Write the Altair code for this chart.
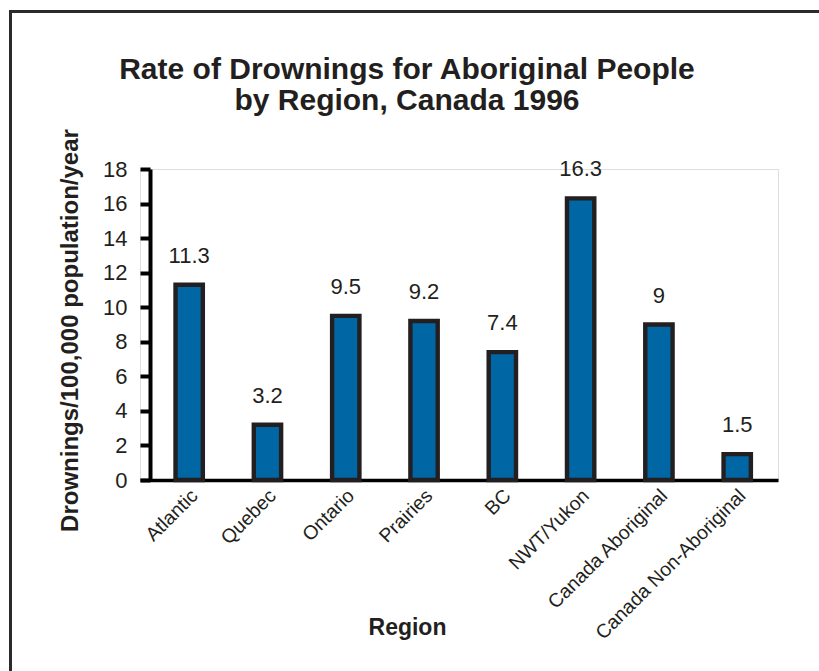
import altair as alt
import pandas as pd

# Drowning rates per 100,000 Aboriginal population per year, 1996
regions = [
    "Atlantic", "Quebec", "Ontario", "Prairies", "BC",
    "NWT/Yukon", "Canada Aboriginal", "Canada Non-Aboriginal",
]
rates = [11.3, 3.2, 9.5, 9.2, 7.4, 16.3, 9.0, 1.5]
y_ticks = [0, 2, 4, 6, 8, 10, 12, 14, 16, 18]

df = pd.DataFrame({"region": regions, "rate": rates})

FONT = "Liberation Sans"
INK = "#231f20"
BAR_FILL = "#0066a4"

x_enc = alt.X(
    "region:N",
    sort=regions,
    title="Region",
    scale=alt.Scale(paddingInner=0.651, paddingOuter=0.4, align=0.567),
    axis=alt.Axis(
        labelAngle=-45,
        labelAlign="right",
        labelBaseline="top",
        labelOffset=-1,
        labelPadding=6,
        labelFontSize=19.5,
        labelFont=FONT,
        labelColor=INK,
        labelLimit=0,
        ticks=False,
        domainColor="black",
        domainWidth=3.5,
        titleFont=FONT,
        titleFontSize=23,
        titleFontWeight="bold",
        titleColor=INK,
        titleX=267,
        titleY=154,
        titleBaseline="alphabetic",
        titleAlign="center",
    ),
)

y_enc = alt.Y(
    "rate:Q",
    title="Drownings/100,000 population/year",
    scale=alt.Scale(domain=[0, 18], nice=False),
    axis=alt.Axis(
        values=y_ticks,
        labelOverlap=False,
        offset=-10,
        grid=False,
        tickSize=10,
        tickWidth=4,
        tickColor="black",
        domainColor="black",
        domainWidth=4,
        labelFontSize=22,
        labelFont=FONT,
        labelColor=INK,
        labelPadding=13,
        titleFont=FONT,
        titleFontSize=24,
        titleFontWeight="bold",
        titleColor=INK,
        titleX=-80,
        titleY=161,
        titleAlign="center",
        titleBaseline="middle",
    ),
)

base = alt.Chart(df).encode(x=x_enc, y=y_enc)

bars = base.mark_bar(fill=BAR_FILL, stroke=INK, strokeWidth=4.4)

values = base.mark_text(
    font=FONT, fontSize=22, color=INK, baseline="alphabetic", dy=-22
).encode(text=alt.Text("rate:Q", format=".1~f"))

# page frame (left and top edges)
frame_df = pd.DataFrame({"k": [0]})
frame_left = alt.Chart(frame_df).mark_rule(color="#2b2b2b", strokeWidth=3).encode(
    x=alt.value(-129.5), y=alt.value(-159), y2=alt.value(520)
)
frame_top = alt.Chart(frame_df).mark_rule(color="#2b2b2b", strokeWidth=3).encode(
    x=alt.value(-131), x2=alt.value(700), y=alt.value(-157.5)
)

chart = alt.layer(bars, values, frame_left, frame_top).properties(
    width=638,
    height=311,
    autosize=alt.AutoSizeParams(type="none"),
    padding={"left": 140, "top": 169, "right": 41, "bottom": 191},
    title=alt.TitleParams(
        text=["Rate of Drownings for Aboriginal People", "by Region, Canada 1996"],
        font=FONT,
        fontSize=30,
        fontWeight="bold",
        color=INK,
        anchor="middle",
        dx=-52,
        offset=0,
        dy=137,
        baseline="bottom",
        lineHeight=31,
    ),
).configure_view(stroke=None).configure(background="white")

chart.save("out.html", embed_options={"renderer": "svg", "actions": False})
